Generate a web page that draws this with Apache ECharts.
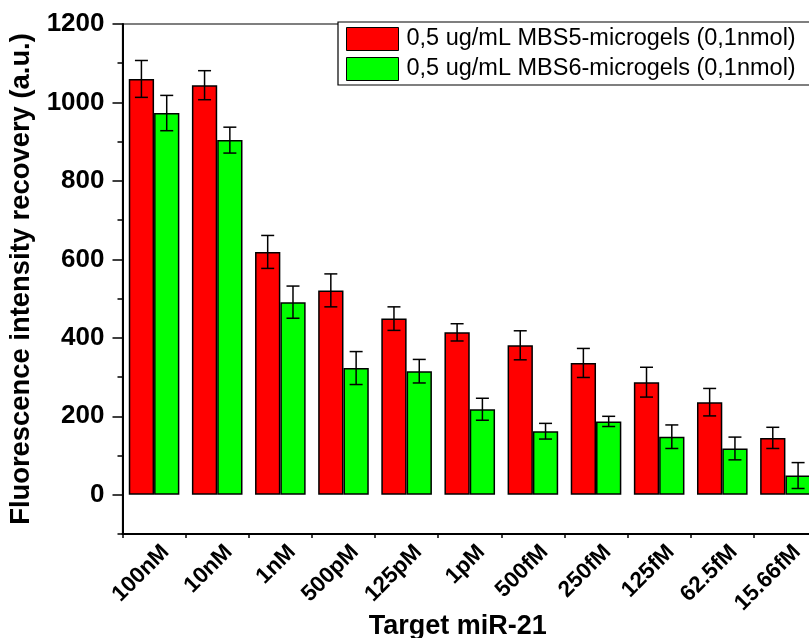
<!DOCTYPE html>
<html>
<head>
<meta charset="utf-8">
<script src="https://cdn.jsdelivr.net/npm/echarts@6/dist/echarts.min.js"></script>
<style>html,body{margin:0;padding:0;background:#fff;}#c{width:809px;height:638px;}</style>
</head>
<body>
<div id="c"></div>
<script>
const categories = ['100nM','10nM','1nM','500pM','125pM','1pM','500fM','250fM','125fM','62.5fM','15.66fM'];
const redValues = [1060, 1044, 619, 521, 449, 414, 381, 336, 287, 236, 145];
const redErrors = [47, 37, 42, 42, 30, 22, 37, 37, 38, 35, 27];
const greenValues = [973, 904, 491, 323, 315, 218, 162, 187, 148, 118, 49];
const greenErrors = [45, 33, 41, 42, 30, 28, 20, 13, 30, 29, 33];
const seriesNames = ['0,5 ug/mL MBS5-microgels (0,1nmol)', '0,5 ug/mL MBS6-microgels (0,1nmol)'];
const majorTicks = [0, 200, 400, 600, 800, 1000, 1200];
const minorTicks = [-100, 100, 300, 500, 700, 900, 1100];

const BAR_W = 25.3;
const FONT = '"Liberation Sans", Arial, sans-serif';

function errSeries(values, errors, side) {
  return {
    type: 'custom',
    xAxisIndex: 0, yAxisIndex: 0,
    silent: true,
    z: 10,
    encode: { x: 0, y: 1 },
    data: values.map((v, i) => [i, v, errors[i]]),
    renderItem: function (params, api) {
      const i = api.value(0), v = api.value(1), e = api.value(2);
      const top = api.coord([i, v + e]);
      const bot = api.coord([i, v - e]);
      const x = top[0] + side * BAR_W / 2;
      const cap = 6.5;
      const st = { stroke: '#000', lineWidth: 1.5 };
      return {
        type: 'group',
        children: [
          { type: 'line', shape: { x1: x, y1: top[1], x2: x, y2: bot[1] }, style: st },
          { type: 'line', shape: { x1: x - cap, y1: top[1], x2: x + cap, y2: top[1] }, style: st },
          { type: 'line', shape: { x1: x - cap, y1: bot[1], x2: x + cap, y2: bot[1] }, style: st }
        ]
      };
    }
  };
}

const chart = echarts.init(document.getElementById('c'), null, { renderer: 'canvas' });
chart.setOption({
  animation: false,
  backgroundColor: '#fff',
  textStyle: { fontFamily: FONT },
  grid: { left: 122.5, right: -8, top: 24, bottom: 104, containLabel: false, outerBoundsMode: 'none', show: true, borderColor: '#000', borderWidth: 1.2, backgroundColor: 'transparent' },
  legend: {
    left: 338, top: 22,
    orient: 'vertical',
    icon: 'rect',
    itemWidth: 52, itemHeight: 23, itemGap: 6,
    padding: [5, 40, 4, 8],
    borderColor: '#000', borderWidth: 1.2,
    backgroundColor: '#fff',
    textStyle: { fontFamily: FONT, fontSize: 23.5, color: '#000', padding: [0, 0, 0, 3] },
    data: seriesNames.map(n => ({ name: n, itemStyle: { borderColor: '#000', borderWidth: 1 } }))
  },
  xAxis: [
    {
      type: 'category', data: categories, position: 'bottom',
      axisLine: { onZero: false, lineStyle: { color: '#000', width: 2 } },
      axisTick: { alignWithLabel: true, length: 6, lineStyle: { color: '#000', width: 1.5 } },
      axisLabel: { rotate: 45, interval: 0, margin: 3, align: 'right', verticalAlign: 'top', padding: [5, 0, 0, 0], color: '#000', fontSize: 22.5, fontWeight: 'bold', fontFamily: FONT },
      name: 'Target miR-21', nameLocation: 'middle', nameGap: 79, nameMoveOverlap: false,
      nameTextStyle: { fontSize: 27, fontWeight: 'bold', color: '#000', fontFamily: FONT, padding: [0, 24, 0, 0] },
      splitLine: { show: false }
    },
    {
      type: 'category', data: categories, position: 'bottom',
      axisLine: { show: false, onZero: false },
      axisTick: { show: true, length: 4, lineStyle: { color: '#000', width: 1.5 } },
      axisLabel: { show: false },
      splitLine: { show: false }
    }
  ],
  yAxis: [
    {
      type: 'value', min: -100, max: 1200,
      axisLine: { show: true, onZero: false, lineStyle: { color: '#000', width: 2 } },
      axisTick: { show: true, length: 10, customValues: majorTicks, lineStyle: { color: '#000', width: 1.5 } },
      axisLabel: { customValues: majorTicks, formatter: v => String(v), margin: 18, color: '#000', fontSize: 26, fontWeight: 'bold', fontFamily: FONT },
      splitLine: { show: false },
      name: 'Fluorescence intensity recovery (a.u.)', nameLocation: 'middle', nameGap: 88, nameMoveOverlap: false,
      nameTextStyle: { fontSize: 27.4, fontWeight: 'bold', color: '#000', fontFamily: FONT }
    },
    {
      type: 'value', min: -100, max: 1200, position: 'left',
      axisLine: { show: false, onZero: false },
      axisTick: { show: true, length: 5, customValues: minorTicks, lineStyle: { color: '#000', width: 1.5 } },
      axisLabel: { show: false, customValues: minorTicks },
      splitLine: { show: false }
    }
  ],
  series: [
    {
      name: seriesNames[0], type: 'bar', data: redValues, barWidth: BAR_W, barGap: '0%',
      itemStyle: { color: '#ff0000', borderColor: '#000', borderWidth: 1.5 }
    },
    {
      name: seriesNames[1], type: 'bar', data: greenValues, barWidth: BAR_W, barGap: '0%',
      itemStyle: { color: '#00ff00', borderColor: '#000', borderWidth: 1.5 }
    },
    errSeries(redValues, redErrors, -1),
    errSeries(greenValues, greenErrors, 1)
  ]
});
</script>
</body>
</html>
